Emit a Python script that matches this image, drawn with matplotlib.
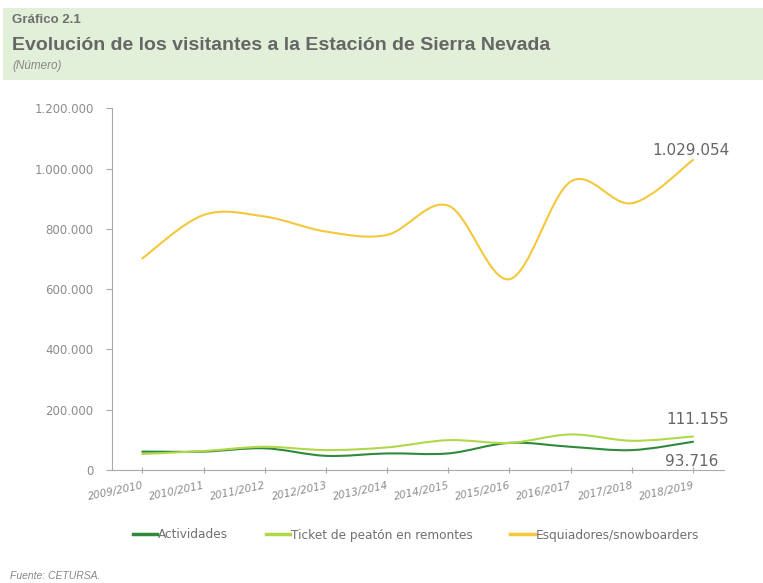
import matplotlib
matplotlib.use("Agg")
import matplotlib.pyplot as plt
import numpy as np
from matplotlib.path import Path
from matplotlib.patches import PathPatch, Rectangle
from matplotlib.lines import Line2D
from matplotlib.ticker import FuncFormatter

temporadas = ["2009/2010", "2010/2011", "2011/2012", "2012/2013", "2013/2014",
              "2014/2015", "2015/2016", "2016/2017", "2017/2018", "2018/2019"]
actividades = [61000, 61000, 72000, 47000, 55000, 55000, 90000, 77000, 66000, 93716]
ticket_peaton = [53000, 63000, 77000, 66000, 75000, 99000, 90000, 118000, 97000, 111155]
esquiadores = [702000, 846000, 841000, 791000, 780000, 877000, 633000, 957000, 885000, 1029054]

series = [
    ("Actividades", actividades, "#2f8a3c"),
    ("Ticket de peatón en remontes", ticket_peaton, "#b0d84a"),
    ("Esquiadores/snowboarders", esquiadores, "#f5c83c"),
]

GRAY = "#707070"
LIGHT = "#8c8c8c"
WIDE = ["DejaVu Sans"]


def smooth_path(x, y):
    # Catmull-Rom style bezier, like Excel's smoothed lines
    x = np.asarray(x, float)
    y = np.asarray(y, float)
    verts = [(x[0], y[0])]
    codes = [Path.MOVETO]
    n = len(x)
    for i in range(n - 1):
        i0 = max(i - 1, 0)
        i3 = min(i + 2, n - 1)
        c1 = (x[i] + (x[i + 1] - x[i0]) / 6, y[i] + (y[i + 1] - y[i0]) / 6)
        c2 = (x[i + 1] - (x[i3] - x[i]) / 6, y[i + 1] - (y[i3] - y[i]) / 6)
        verts += [c1, c2, (x[i + 1], y[i + 1])]
        codes += [Path.CURVE4] * 3
    return Path(verts, codes)


fig = plt.figure(figsize=(7.63, 5.83), dpi=100)
plt.rcParams["font.family"] = ["Liberation Sans", "DejaVu Sans"]

# header box
fig.patches.append(Rectangle((3 / 763, 1 - 80 / 583), 1, 72 / 583, transform=fig.transFigure,
                             facecolor="#e2efd9", edgecolor="none", zorder=0))
fig.text(12 / 763, 1 - 20 / 583, "Gráfico 2.1", fontsize=9.5, fontweight="bold",
         color=GRAY, va="center")
fig.text(12 / 763, 1 - 45 / 583, "Evolución de los visitantes a la Estación de Sierra Nevada",
         fontsize=14, fontweight="bold", color="#666666", va="center")
fig.text(12 / 763, 1 - 66 / 583, "(Número)", fontsize=8.5, style="italic", color="#888888",
         va="center")

ax = fig.add_axes([111.7 / 763, 1 - 470 / 583, 612 / 763, 361.7 / 583])
x = np.arange(len(temporadas))
for name, vals, col in series:
    ax.add_patch(PathPatch(smooth_path(x, vals), facecolor="none", edgecolor=col, lw=1.5,
                           capstyle="round"))

ax.set_xlim(-0.5, len(temporadas) - 0.5)
ax.set_ylim(0, 1200000)
ax.set_yticks(np.arange(0, 1200001, 200000))
ax.yaxis.set_major_formatter(FuncFormatter(lambda v, p: f"{v:,.0f}".replace(",", ".")))
ax.set_xticks(x)
ax.set_xticklabels(temporadas, rotation=12, ha="right", rotation_mode="anchor",
                   style="italic", fontsize=7.5, color=LIGHT, family=WIDE)
for lab in ax.get_yticklabels():
    lab.set_family(WIDE)
ax.tick_params(axis="y", labelsize=8.5, labelcolor=LIGHT, color="#aaaaaa", length=4, pad=9)
ax.tick_params(axis="x", color="#aaaaaa", length=5, direction="inout", pad=5)
ax.spines[["top", "right"]].set_visible(False)
ax.spines[["left", "bottom"]].set_color("#aaaaaa")

last = len(temporadas) - 1
ax.annotate(f"{esquiadores[-1]:,}".replace(",", "."), (last, esquiadores[-1]),
            xytext=(-1.5, 7), textcoords="offset points", ha="center", va="center",
            fontsize=11, color="#666666", family=WIDE)
ax.annotate(f"{ticket_peaton[-1]:,}".replace(",", "."), (last, ticket_peaton[-1]),
            xytext=(3, 12), textcoords="offset points", ha="center", va="center",
            fontsize=11, color="#666666", family=WIDE)
ax.annotate(f"{actividades[-1]:,}".replace(",", "."), (last, actividades[-1]),
            xytext=(-1, -14.5), textcoords="offset points", ha="center", va="center",
            fontsize=11, color="#666666", family=WIDE)

handles = [Line2D([], [], color=c, lw=2.5) for _, _, c in series]
fig.legend(handles, [n for n, _, _ in series], loc="center", bbox_to_anchor=(416 / 763, 1 - 535 / 583),
           ncol=3, frameon=False, handlelength=2.0, handletextpad=0.1,
           columnspacing=3.1, labelcolor=GRAY, prop={"family": WIDE, "size": 8.7})

fig.text(10 / 763, 1 - 576 / 583, "Fuente: CETURSA.", fontsize=7.5, style="italic",
         color="#888888", va="center")

fig.savefig("out.png", dpi=100)
